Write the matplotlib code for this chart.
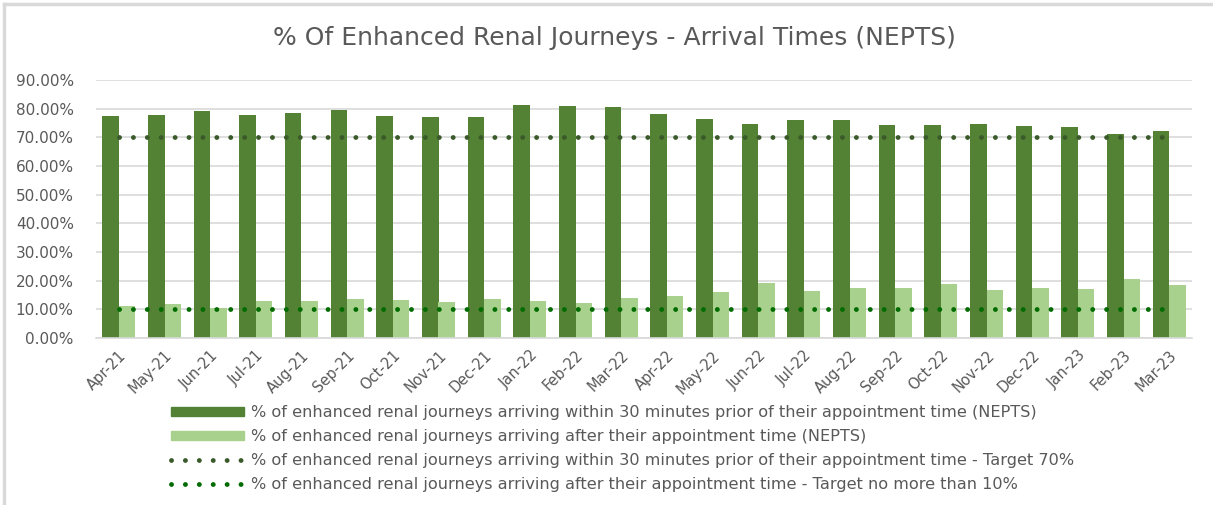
import numpy as np
import matplotlib
matplotlib.use("Agg")
import matplotlib.pyplot as plt
from matplotlib.patches import Patch
from matplotlib.lines import Line2D
from matplotlib.ticker import FuncFormatter

# =========================
# Data
# =========================

months = ["Apr-21", "May-21", "Jun-21", "Jul-21", "Aug-21", "Sep-21", "Oct-21", "Nov-21",
          "Dec-21", "Jan-22", "Feb-22", "Mar-22", "Apr-22", "May-22", "Jun-22", "Jul-22",
          "Aug-22", "Sep-22", "Oct-22", "Nov-22", "Dec-22", "Jan-23", "Feb-23", "Mar-23"]

within_30 = [77.5, 77.8, 79.2, 77.8, 78.5, 79.6, 77.5, 77.1, 77.1, 81.4, 81.1, 80.7,
             78.2, 76.4, 74.7, 76.1, 76.1, 74.3, 74.3, 74.7, 74.0, 73.6, 71.2, 72.2]

after_appt = [11.3, 11.7, 10.6, 12.8, 12.8, 13.5, 13.1, 12.4, 13.5, 12.8, 12.1, 13.8,
              14.5, 15.9, 19.2, 16.3, 17.3, 17.3, 18.7, 16.6, 17.3, 17.0, 20.5, 18.4]

target_within = [70.0] * len(months)
target_after = [10.0] * len(months)

labels = [
    "% of enhanced renal journeys arriving within 30 minutes prior of their appointment time (NEPTS)",
    "% of enhanced renal journeys arriving after their appointment time (NEPTS)",
    "% of enhanced renal journeys arriving within 30 minutes prior of their appointment time - Target 70%",
    "% of enhanced renal journeys arriving after their appointment time - Target no more than 10%",
]

# =========================
# Style
# =========================

plt.rcParams["font.family"] = ["DejaVu Sans"]

dark_bar = "#548235"
light_bar = "#a9d18e"
dark_line = "#3a5a2a"
green_line = "#006b00"
text_col = "#595959"
grid_col = "#d9d9d9"

fig = plt.figure(figsize=(12.13, 5.05), dpi=100)
ax = fig.add_axes([96 / 1213, 1 - 338 / 505, (1192 - 96) / 1213, (338 - 80) / 505])

x = np.arange(len(months))
w = 0.36

ax.bar(x - w / 2, within_30, width=w, color=dark_bar, zorder=2)
ax.bar(x + w / 2, after_appt, width=w, color=light_bar, zorder=2)

lw_dot = 3.5
dot = (0, (0.01, 2.85))
ax.plot(x, target_within, color=dark_line, lw=lw_dot, linestyle=dot,
        dash_capstyle="round", zorder=3)
ax.plot(x, target_after, color=green_line, lw=lw_dot, linestyle=dot,
        dash_capstyle="round", zorder=3)

ax.set_xlim(-0.5, len(months) - 0.5)
ax.set_ylim(0, 90)
ax.set_yticks(np.arange(0, 91, 10))
ax.yaxis.set_major_formatter(FuncFormatter(lambda v, p: f"{v:.2f}%"))
ax.grid(axis="y", color=grid_col, lw=1.2, zorder=0)
ax.set_axisbelow(True)

for s in ["top", "right", "left"]:
    ax.spines[s].set_visible(False)
ax.spines["bottom"].set_color(grid_col)
ax.spines["bottom"].set_linewidth(1.2)

ax.set_xticks(x)
ax.set_xticklabels(months, rotation=45, ha="right", rotation_mode="anchor")
ax.tick_params(axis="x", length=0, colors=text_col, labelsize=10.5, pad=7)
ax.tick_params(axis="y", length=0, colors=text_col, labelsize=11, pad=16)

fig.text(614 / 1213, 1 - 38 / 505, "% Of Enhanced Renal Journeys - Arrival Times (NEPTS)",
         ha="center", va="center", fontsize=18, color=text_col)

handles = [
    Patch(color=dark_bar),
    Patch(color=light_bar),
    Line2D([], [], color=dark_line, lw=lw_dot, linestyle=dot, dash_capstyle="round"),
    Line2D([], [], color=green_line, lw=lw_dot, linestyle=dot, dash_capstyle="round"),
]
fig.legend(handles, labels, loc="upper left", bbox_to_anchor=(165 / 1213, 1 - 399 / 505),
           frameon=False, fontsize=11.6, labelcolor=text_col, handlelength=4.5,
           handleheight=0.5, handletextpad=0.45, labelspacing=0.55, borderaxespad=0)

# light border on top / left edge
fig.add_artist(Line2D([4 / 1213, 4 / 1213], [0, 1 - 4 / 505], transform=fig.transFigure,
                      color="#d9d9d9", lw=2.5))
fig.add_artist(Line2D([4 / 1213, 1], [1 - 4 / 505, 1 - 4 / 505], transform=fig.transFigure,
                      color="#d9d9d9", lw=2.5))

fig.savefig("out.png", dpi=100)
